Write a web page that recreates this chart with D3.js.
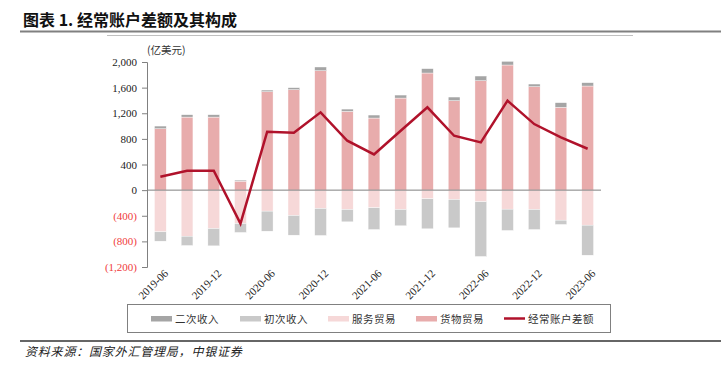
<!DOCTYPE html>
<html><head><meta charset="utf-8">
<script src="https://cdn.jsdelivr.net/npm/d3@7/dist/d3.min.js"></script>
<style>
body{margin:0;background:#fff;}
svg{display:block;}
</style></head>
<body><svg id="chart" width="726" height="373"></svg>
<script>
const categories = ["2019-06","2019-09","2019-12","2020-03","2020-06","2020-09","2020-12","2021-03","2021-06","2021-09","2021-12","2022-03","2022-06","2022-09","2022-12","2023-03","2023-06"];
const tickLabels = ["2019-06","2019-12","2020-06","2020-12","2021-06","2021-12","2022-06","2022-12","2023-06"];
const goods     = [958,1140,1140,140,1536,1568,1864,1229,1125,1437,1828,1396,1708,1953,1615,1292,1625];
const secondary = [42,37,37,16,26,31,58,36,47,47,68,57,73,57,41,73,52];
const services  = [-651,-719,-599,-521,-328,-396,-286,-302,-276,-302,-135,-146,-182,-297,-302,-469,-547];
const primary   = [-146,-146,-271,-140,-313,-307,-422,-193,-339,-255,-469,-443,-854,-333,-313,-67,-469];
const balance   = [208,302,302,-521,911,896,1214,771,557,927,1292,849,745,1396,1031,823,646];
const yTicks    = [-1200,-800,-400,0,400,800,1200,1600,2000];
const seriesNames = ["货物贸易","二次收入","服务贸易","初次收入"];
const legendNames = ["二次收入","初次收入","服务贸易","货物贸易","经常账户差额"];

const colors = {"货物贸易":"#e8acac","二次收入":"#a5a5a5","服务贸易":"#f6d8d8","初次收入":"#c9c9c9","经常账户差额":"#b0122b"};

const svg = d3.select("#chart");
const serif = "'Liberation Serif','Times New Roman',serif";
const cjk = "'Noto Sans CJK SC','Noto Sans',sans-serif";

// Title
svg.append("text").attr("x",23).attr("y",26).attr("font-family",cjk).attr("font-weight","bold")
  .attr("font-size",16).attr("fill","#111").text("图表 1. 经常账户差额及其构成");
svg.append("line").attr("x1",20).attr("x2",721).attr("y1",31.5).attr("y2",31.5).attr("stroke","#808080").attr("stroke-width",2);
svg.append("line").attr("x1",107).attr("x2",633).attr("y1",35.5).attr("y2",35.5).attr("stroke","#c0c0c0").attr("stroke-width",1.2);

const x = d3.scaleBand().domain(categories).range([147,601]).paddingInner(0.56).paddingOuter(0.28);
const y = d3.scaleLinear().domain([-1200,2000]).range([267,62]);

const table = categories.map((c,i)=>({cat:c,"货物贸易":goods[i],"二次收入":secondary[i],"服务贸易":services[i],"初次收入":primary[i]}));
const stack = d3.stack().keys(seriesNames).offset(d3.stackOffsetDiverging);
const stacked = stack(table);

const g = svg.append("g");
g.selectAll("g.s").data(stacked).join("g").attr("fill",d=>colors[d.key])
  .selectAll("rect").data(d=>d).join("rect")
  .attr("x",d=>x(d.data.cat)).attr("width",x.bandwidth())
  .attr("y",d=>y(Math.max(d[0],d[1]))).attr("height",d=>Math.abs(y(d[0])-y(d[1])))
  .attr("stroke","#fff").attr("stroke-width",0.4);

// y axis
const yAxis = d3.axisLeft(y).tickValues(yTicks).tickSize(5).tickPadding(5)
  .tickFormat(v=> v<0 ? "("+d3.format(",")(-v)+")" : d3.format(",")(v));
const ya = svg.append("g").attr("transform","translate(147,0)").call(yAxis);
ya.select(".domain").attr("stroke","#808080");
ya.selectAll(".tick line").attr("stroke","#808080");
ya.selectAll("text").attr("font-family",serif).attr("font-size",11)
  .attr("fill",v=> v<0 ? "#f03c3c" : "#222");

// zero line
svg.append("line").attr("x1",147).attr("x2",601).attr("y1",y(0)).attr("y2",y(0)).attr("stroke","#808080").attr("stroke-width",1);

// x labels
const xAxis = d3.axisBottom(x).tickValues(tickLabels).tickSize(0);
const xa = svg.append("g").attr("transform","translate(0,267)").call(xAxis);
xa.select(".domain").remove();
xa.selectAll("text").attr("font-family",serif).attr("font-size",11).attr("fill","#222")
  .attr("text-anchor","end").attr("dx","1").attr("dy","8").attr("transform","rotate(-45)");

// line
const line = d3.line().x((d,i)=>x(categories[i])+x.bandwidth()/2).y(d=>y(d));
svg.append("path").datum(balance).attr("d",line).attr("fill","none").attr("stroke",colors["经常账户差额"]).attr("stroke-width",2.5).attr("stroke-linejoin","miter");

// unit
svg.append("text").attr("x",147).attr("y",54).attr("font-family",cjk).attr("font-size",10.5).attr("fill","#333").text("(亿美元)");

// legend
svg.append("rect").attr("x",127.5).attr("y",304.5).attr("width",483).attr("height",28).attr("fill","none").attr("stroke","#808080").attr("stroke-width",1);
const lx = [151,240,328,416,504];
legendNames.forEach((n,i)=>{
  if(n==="经常账户差额"){
    svg.append("line").attr("x1",lx[i]).attr("x2",lx[i]+21).attr("y1",318.5).attr("y2",318.5).attr("stroke",colors[n]).attr("stroke-width",2.5);
  } else {
    svg.append("rect").attr("x",lx[i]).attr("y",316).attr("width",21).attr("height",5.5).attr("fill",colors[n]);
  }
  svg.append("text").attr("x",lx[i]+24).attr("y",322.5).attr("font-family",cjk).attr("font-size",10.5).attr("fill","#333").attr("letter-spacing",0.5).text(n);
});

// footer
svg.append("line").attr("x1",20).attr("x2",721).attr("y1",341).attr("y2",341).attr("stroke","#333").attr("stroke-width",1.5);
svg.append("text").attr("x",25).attr("y",356).attr("font-family",cjk).attr("font-style","italic").attr("font-size",12).attr("fill","#222").attr("letter-spacing",0.8).text("资料来源：国家外汇管理局，中银证券");
</script></body></html>
